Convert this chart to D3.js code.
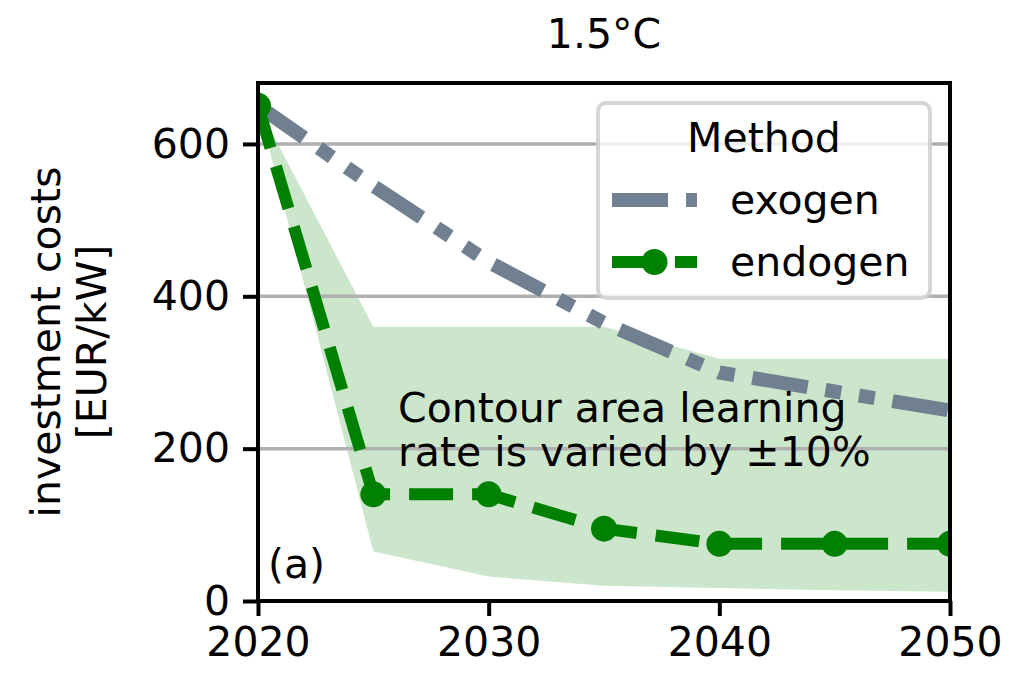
<!DOCTYPE html>
<html>
<head>
<meta charset="utf-8">
<script src="https://cdn.jsdelivr.net/npm/d3@7"></script>
<style>
  html, body { margin: 0; padding: 0; background: #fff; }
  svg text { font-family: "DejaVu Sans", sans-serif; fill: #000; }
</style>
</head>
<body>
<svg id="chart" width="1030" height="681"></svg>
<script>
// Investment cost pathways, 1.5°C scenario
const years = [2020, 2025, 2030, 2035, 2040, 2045, 2050];
const exogen = [650, 545, 445, 365, 300, 275, 250];
const endogen = [650, 140, 140, 95, 75, 75, 75];
const endogenLow = [650, 65, 32, 20, 17, 14, 12];
const endogenHigh = [650, 360, 360, 360, 318, 318, 318];
const xTicks = [2020, 2030, 2040, 2050];
const yTicks = [0, 200, 400, 600];
const gridValues = [200, 400, 600];

const C_EXO = "#708090";
const C_ENDO = "#008000";
const FONT = 41;

const svg = d3.select("#chart");
const box = { left: 258, right: 950, top: 83, bottom: 601 };

const x = d3.scaleLinear().domain([2020, 2050]).range([box.left, box.right]);
const y = d3.scaleLinear().domain([0, 680]).range([box.bottom, box.top]);

svg.append("defs").append("clipPath").attr("id", "plotClip")
  .append("rect")
  .attr("x", box.left).attr("y", box.top)
  .attr("width", box.right - box.left).attr("height", box.bottom - box.top);

const plot = svg.append("g").attr("clip-path", "url(#plotClip)");

// uncertainty band of the endogenous learning rate
const band = years.map((yr, i) => ({ yr, lo: endogenLow[i], hi: endogenHigh[i] }));
plot.append("path")
  .datum(band)
  .attr("fill", C_ENDO)
  .attr("fill-opacity", 0.2)
  .attr("d", d3.area().x(d => x(d.yr)).y0(d => y(d.lo)).y1(d => y(d.hi)));

// horizontal grid
plot.selectAll("line.grid").data(gridValues).join("line")
  .attr("class", "grid")
  .attr("x1", box.left).attr("x2", box.right)
  .attr("y1", d => y(d)).attr("y2", d => y(d))
  .attr("stroke", "#b0b0b0").attr("stroke-width", 3.5);

const line = d3.line().x(d => x(d[0])).y(d => y(d[1]));
const exoPts = years.map((yr, i) => [yr, exogen[i]]);
const endoPts = years.map((yr, i) => [yr, endogen[i]]);

const EXO_DASH = "56,18,16,18,16,18";
const ENDO_DASH = "44,19";

plot.append("path")
  .datum(exoPts)
  .attr("fill", "none")
  .attr("stroke", C_EXO)
  .attr("stroke-width", 14)
  .attr("stroke-dasharray", EXO_DASH)
  .attr("stroke-linejoin", "round")
  .attr("d", line);

plot.append("path")
  .datum(endoPts)
  .attr("fill", "none")
  .attr("stroke", C_ENDO)
  .attr("stroke-width", 12)
  .attr("stroke-dasharray", ENDO_DASH)
  .attr("stroke-linejoin", "round")
  .attr("d", line);

plot.selectAll("circle.endo").data(endoPts).join("circle")
  .attr("class", "endo")
  .attr("cx", d => x(d[0])).attr("cy", d => y(d[1]))
  .attr("r", 13)
  .attr("fill", C_ENDO);

// annotation
const note = plot.append("text")
  .attr("x", 398).attr("y", 422)
  .style("font-size", FONT + "px");
note.append("tspan").attr("x", 398).attr("y", 422).text("Contour area learning");
note.append("tspan").attr("x", 398).attr("y", 466).text("rate is varied by \u00b110%");

plot.append("text")
  .attr("x", 268).attr("y", 578)
  .style("font-size", FONT + "px")
  .text("(a)");

// legend
const lg = svg.append("g");
lg.append("rect")
  .attr("x", 598).attr("y", 103).attr("width", 332).attr("height", 195)
  .attr("rx", 8).attr("ry", 8)
  .attr("fill", "#fff").attr("fill-opacity", 0.8)
  .attr("stroke", "#cccccc").attr("stroke-opacity", 0.8).attr("stroke-width", 4);
lg.append("text")
  .attr("x", 764).attr("y", 152)
  .attr("text-anchor", "middle")
  .style("font-size", FONT + "px")
  .text("Method");

const legendItems = [
  { label: "exogen", color: C_EXO, width: 14, dash: EXO_DASH, marker: false, cy: 200 },
  { label: "endogen", color: C_ENDO, width: 12, dash: ENDO_DASH, marker: true, cy: 262 }
];
legendItems.forEach(it => {
  lg.append("line")
    .attr("x1", 612).attr("x2", 697)
    .attr("y1", it.cy).attr("y2", it.cy)
    .attr("stroke", it.color).attr("stroke-width", it.width)
    .attr("stroke-dasharray", it.dash);
  if (it.marker) {
    lg.append("circle").attr("cx", 654.5).attr("cy", it.cy).attr("r", 13).attr("fill", it.color);
  }
  lg.append("text")
    .attr("x", 730).attr("y", it.cy)
    .attr("dy", "0.33em")
    .style("font-size", FONT + "px")
    .text(it.label);
});

// axes
const yAxis = d3.axisLeft(y).tickValues(yTicks).tickSize(15).tickPadding(13).tickFormat(d3.format("d"));
const xAxis = d3.axisBottom(x).tickValues(xTicks).tickSize(15).tickPadding(11).tickFormat(d3.format("d"));

const gy = svg.append("g").attr("transform", `translate(${box.left},0)`).call(yAxis);
const gx = svg.append("g").attr("transform", `translate(0,${box.bottom})`).call(xAxis);
[gx, gy].forEach(g => {
  g.select(".domain").remove();
  g.selectAll(".tick line").attr("stroke", "#000").attr("stroke-width", 4);
  g.selectAll(".tick text")
    .attr("fill", "#000")
    .style("font-family", "DejaVu Sans, sans-serif")
    .style("font-size", FONT + "px");
});

// frame
svg.append("rect")
  .attr("x", box.left).attr("y", box.top)
  .attr("width", box.right - box.left).attr("height", box.bottom - box.top)
  .attr("fill", "none").attr("stroke", "#000").attr("stroke-width", 4);

// title and axis label
svg.append("text")
  .attr("x", (box.left + box.right) / 2).attr("y", 48)
  .attr("text-anchor", "middle")
  .style("font-size", FONT + "px")
  .text("1.5\u00b0C");

const yl = svg.append("text")
  .attr("transform", `translate(0,${(box.top + box.bottom) / 2}) rotate(-90)`)
  .attr("text-anchor", "middle")
  .style("font-size", FONT + "px");
yl.append("tspan").attr("x", 0).attr("y", 60).text("investment costs");
yl.append("tspan").attr("x", 0).attr("y", 106).text("[EUR/kW]");
</script>
</body>
</html>
